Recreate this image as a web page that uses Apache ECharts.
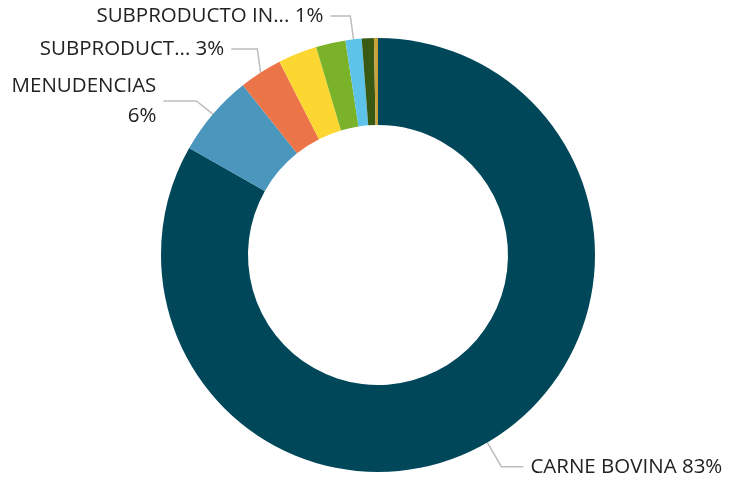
<!DOCTYPE html>
<html>
<head>
<meta charset="utf-8">
<script src="https://cdn.jsdelivr.net/npm/echarts@6/dist/echarts.min.js"></script>
<style>
  html, body { margin: 0; padding: 0; background: #fff; }
  #chart { width: 729px; height: 480px; }
</style>
</head>
<body>
<div id="chart"></div>
<script>
// slice names as shown (truncated ones kept as in the picture)
const categories = ['CARNE BOVINA', 'MENUDENCIAS', 'SUBPRODUCT...', 'CUEROS', 'GRASAS', 'SUBPRODUCTO IN...', 'HUESOS', 'SANGRE'];
// share of total, %
const shares = [83.2, 6.1, 3.2, 2.9, 2.2, 1.2, 0.9, 0.3];
const colors = ['#00475A', '#4A96BC', '#EC7449', '#FDD731', '#7AB32A', '#5DC3E8', '#3A5A14', '#C9A33A'];
const showLabel = [true, true, true, false, false, true, false, false];

// label leader tweaks (second segment length) per slice
const leader2 = [22, 33, 26, 20, 20, 20, 20, 20];

const myChart = echarts.init(document.getElementById('chart'));

const data = categories.map((name, i) => ({
    name: name,
    value: shares[i],
    itemStyle: { color: colors[i] },
    label: name === 'MENUDENCIAS'
        ? { show: showLabel[i], padding: [10, 0, 0, 0] }
        : { show: showLabel[i] },
    labelLine: { show: showLabel[i], length2: leader2[i] }
}));

myChart.setOption({
    animation: false,
    series: [
        {
            type: 'pie',
            center: [378, 255],
            radius: [130, 217],
            startAngle: 90,
            clockwise: true,
            avoidLabelOverlap: true,
            data: data,
            label: {
                position: 'outside',
                fontFamily: "'Open Sans', 'Noto Sans', sans-serif",
                fontSize: 20.5,
                color: '#222222',
                lineHeight: 30,
                overflow: 'none',
                distanceToLabelLine: 7,
                formatter: p => p.name + (p.name === 'MENUDENCIAS' ? '\n' : ' ') + Math.round(p.value) + '%'
            },
            labelLine: {
                length: 28,
                length2: 20,
                lineStyle: { color: '#bdbdbd', width: 1.5 }
            },
            emphasis: { disabled: true }
        }
    ]
});
</script>
</body>
</html>
